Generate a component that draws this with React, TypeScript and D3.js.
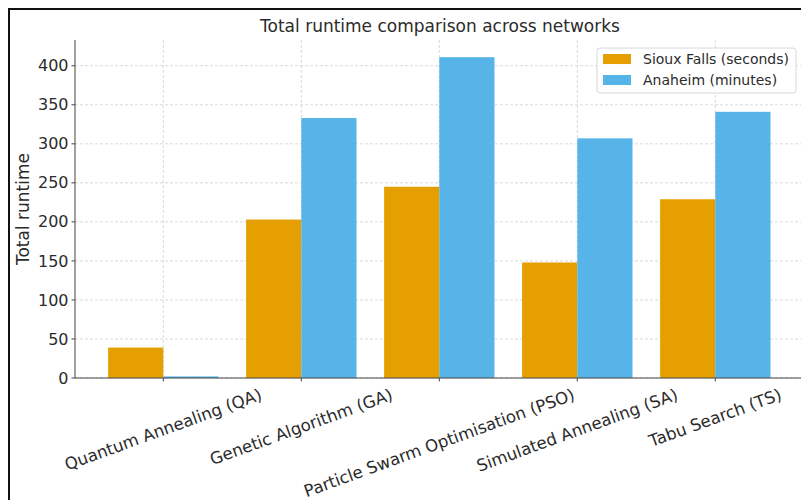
import React, { useEffect, useRef } from "react";
import * as d3 from "d3";

const categories = [
  "Quantum Annealing (QA)",
  "Genetic Algorithm (GA)",
  "Particle Swarm Optimisation (PSO)",
  "Simulated Annealing (SA)",
  "Tabu Search (TS)",
];
const siouxFalls = [39, 203, 245, 148, 229];
const anaheim = [2, 333, 411, 307, 341];
const yTicks = [0, 50, 100, 150, 200, 250, 300, 350, 400];
const seriesNames = ["Sioux Falls (seconds)", "Anaheim (minutes)"];
const colors = ["#E69F00", "#56B4E9"];

const W = 801;
const H = 500;
const FONT = "DejaVu Sans, sans-serif";
const TXT = "#2b2b2b";

export default function App() {
  const ref = useRef<SVGSVGElement | null>(null);

  useEffect(() => {
    const svg = d3.select(ref.current);
    svg.selectAll("*").remove();

    const left = 75;
    const top = 40;
    const bottom = 378;
    const x = d3.scaleLinear().domain([-0.64, 4.64]).range([left, 803.6]);
    const y = d3.scaleLinear().domain([0, 433]).range([bottom, top]);
    const barW = 0.4;

    svg.append("rect").attr("x", 0).attr("y", 0).attr("width", W).attr("height", H).attr("fill", "#fff");
    // outer frame
    svg
      .append("rect")
      .attr("x", 9)
      .attr("y", 9)
      .attr("width", W + 20)
      .attr("height", H + 20)
      .attr("fill", "none")
      .attr("stroke", "#111")
      .attr("stroke-width", 2);

    // grid
    const grid = svg.append("g");
    yTicks.forEach((t) => {
      grid
        .append("line")
        .attr("x1", left)
        .attr("x2", W)
        .attr("y1", y(t))
        .attr("y2", y(t))
        .attr("stroke", "#d0d0d0")
        .attr("stroke-width", 0.8)
        .attr("stroke-dasharray", "3,2");
    });
    categories.forEach((_, i) => {
      grid
        .append("line")
        .attr("x1", x(i))
        .attr("x2", x(i))
        .attr("y1", top)
        .attr("y2", bottom)
        .attr("stroke", "#d0d0d0")
        .attr("stroke-width", 0.8)
        .attr("stroke-dasharray", "3,2");
    });

    // bars
    const series = [siouxFalls, anaheim];
    series.forEach((vals, s) => {
      svg
        .append("g")
        .selectAll("rect")
        .data(vals)
        .join("rect")
        .attr("x", (_, i) => x(i - barW + s * barW))
        .attr("width", (_, i) => x(i) - x(i - barW))
        .attr("y", (d) => y(d))
        .attr("height", (d) => y(0) - y(d))
        .attr("fill", colors[s]);
    });

    // spines
    svg.append("line").attr("x1", left).attr("x2", left).attr("y1", top).attr("y2", bottom).attr("stroke", "#444").attr("stroke-width", 1);
    svg.append("line").attr("x1", left).attr("x2", W).attr("y1", bottom).attr("y2", bottom).attr("stroke", "#444").attr("stroke-width", 1);

    // y ticks
    yTicks.forEach((t) => {
      svg.append("line").attr("x1", left - 3.5).attr("x2", left).attr("y1", y(t)).attr("y2", y(t)).attr("stroke", "#444");
      svg
        .append("text")
        .attr("x", left - 6.5)
        .attr("y", y(t))
        .attr("dy", "0.35em")
        .attr("text-anchor", "end")
        .attr("font-family", FONT)
        .attr("font-size", 16)
        .attr("fill", TXT)
        .text(t);
    });

    // x ticks + rotated labels
    const ang = (20 * Math.PI) / 180;
    const fs = 16.6;
    const h = fs * 1.164;
    categories.forEach((c, i) => {
      svg.append("line").attr("x1", x(i)).attr("x2", x(i)).attr("y1", bottom).attr("y2", bottom + 3.5).attr("stroke", "#444");
      const t = svg
        .append("text")
        .attr("text-anchor", "middle")
        .attr("dominant-baseline", "central")
        .attr("font-family", FONT)
        .attr("font-size", fs)
        .attr("fill", TXT)
        .text(c);
      const L = (t.node() as SVGTextElement).getComputedTextLength();
      const bh = L * Math.sin(ang) + h * Math.cos(ang);
      const cy = bottom + 7 + bh / 2;
      t.attr("transform", `translate(${x(i)},${cy}) rotate(-20)`);
    });

    // y label
    svg
      .append("text")
      .attr("transform", `translate(23,${(top + bottom) / 2}) rotate(-90)`)
      .attr("text-anchor", "middle")
      .attr("dominant-baseline", "central")
      .attr("font-family", FONT)
      .attr("font-size", 17)
      .attr("fill", TXT)
      .text("Total runtime");

    // title
    svg
      .append("text")
      .attr("x", 440)
      .attr("y", 26)
      .attr("dominant-baseline", "central")
      .attr("text-anchor", "middle")
      .attr("font-family", FONT)
      .attr("font-size", 17)
      .attr("fill", TXT)
      .text("Total runtime comparison across networks");

    // legend
    const lg = svg.append("g");
    lg.append("rect")
      .attr("x", 597)
      .attr("y", 48)
      .attr("width", 199)
      .attr("height", 45)
      .attr("rx", 3)
      .attr("fill", "rgba(255,255,255,0.8)")
      .attr("stroke", "#d8d8d8")
      .attr("stroke-width", 1);
    seriesNames.forEach((n, i) => {
      const yy = 59 + i * 21;
      lg.append("rect").attr("x", 603).attr("y", yy - 5).attr("width", 28).attr("height", 10).attr("fill", colors[i]);
      lg.append("text")
        .attr("x", 643)
        .attr("y", yy)
        .attr("dominant-baseline", "central")
        .attr("font-family", FONT)
        .attr("font-size", 14)
        .attr("fill", TXT)
        .text(n);
    });
  }, []);

  return (
    <svg
      ref={ref}
      width={W}
      height={H}
      style={{ position: "absolute", left: 0, top: 0, display: "block" }}
    />
  );
}
